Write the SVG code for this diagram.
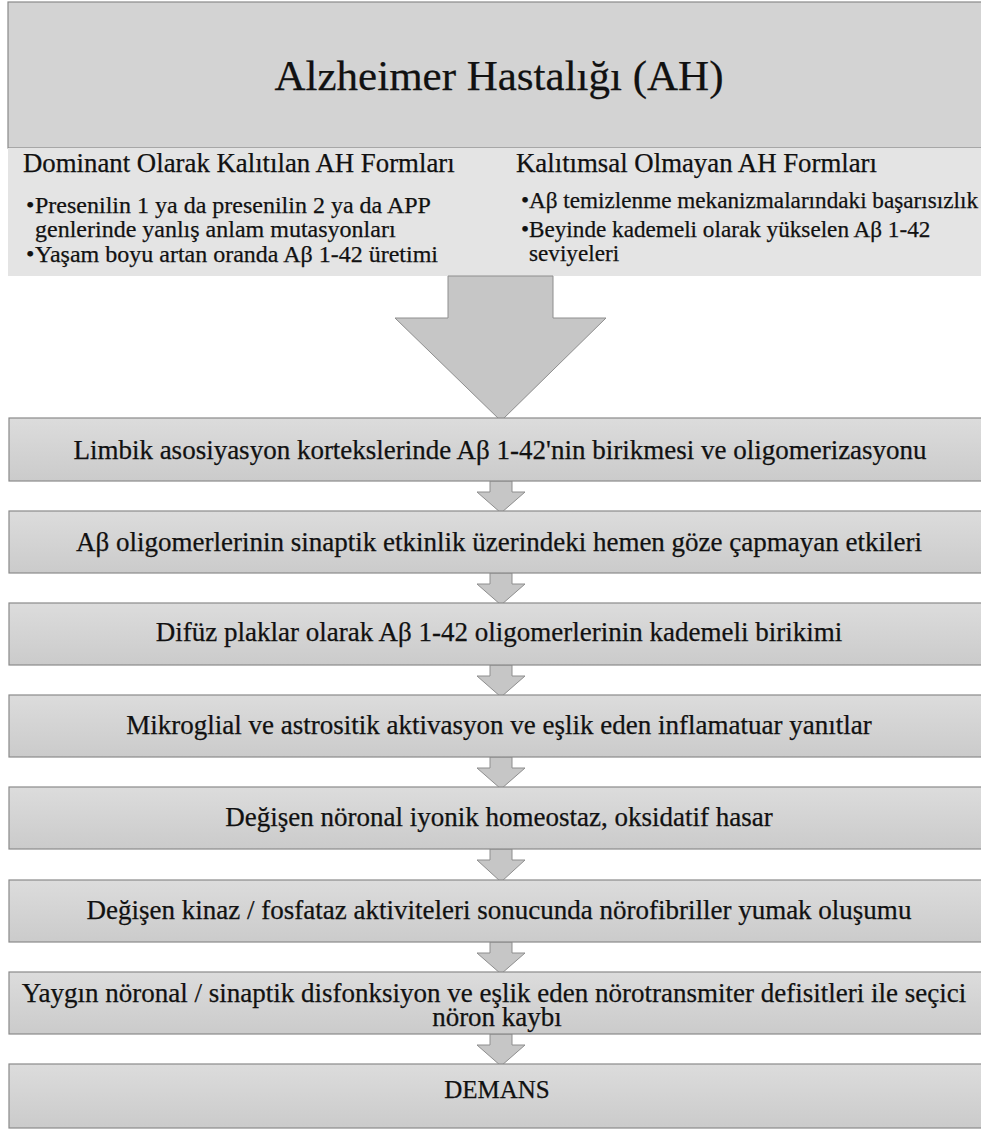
<svg xmlns="http://www.w3.org/2000/svg" width="981" height="1137" viewBox="0 0 981 1137">
<style>
text{font-family:"Liberation Serif","Times New Roman",serif;fill:#111;stroke:#111;stroke-width:0.25}
.box{fill:url(#g);stroke:#8a8a8a;stroke-width:1.2}
.t{font-size:27px;text-anchor:middle}
.h{font-size:26.8px}
.b{font-size:24px}
.r{font-size:23.2px}
.arr{fill:#c6c6c6;stroke:#8e8e8e;stroke-width:1}
</style>
<defs>
<linearGradient id="g" x1="0" y1="0" x2="0" y2="1">
<stop offset="0" stop-color="#dcdcdc"/>
<stop offset="1" stop-color="#cbcbcb"/>
</linearGradient>
</defs>
<rect width="981" height="1137" fill="#ffffff"/>
<g id="header">
<rect x="8" y="2" width="990" height="146" fill="#d3d3d3" stroke="#8a8a8a" stroke-width="1.2"/>
<rect x="8" y="148" width="990" height="128" fill="#e4e4e4"/>
<text x="499" y="90" style="font-size:43px;text-anchor:middle">Alzheimer Hastalığı (AH)</text>
<text class="h" x="23" y="172">Dominant Olarak Kalıtılan AH Formları</text>
<text class="b" x="26" y="213">•</text>
<text class="b" x="35" y="213">Presenilin 1 ya da presenilin 2 ya da APP</text>
<text class="b" x="35" y="237">genlerinde yanlış anlam mutasyonları</text>
<text class="b" x="26" y="262">•</text>
<text class="b" x="35" y="262">Yaşam boyu artan oranda Aβ 1-42 üretimi</text>
<text class="h" x="516" y="172">Kalıtımsal Olmayan AH Formları</text>
<text class="r" x="521" y="208">•</text>
<text class="r" x="529" y="208">Aβ temizlenme mekanizmalarındaki başarısızlık</text>
<text class="r" x="521" y="237">•</text>
<text class="r" x="529" y="237">Beyinde kademeli olarak yükselen Aβ 1-42</text>
<text class="r" x="529" y="261">seviyeleri</text>
</g>
<g id="connectors">
<polygon class="arr" points="448,276 553,276 553,318 606,318 501,421 395,318 448,318"/>
<polygon class="arr" points="490,481 512,481 512,492 525,492 501,513 477,492 490,492"/>
<polygon class="arr" points="490,573 512,573 512,584 525,584 501,605 477,584 490,584"/>
<polygon class="arr" points="490,665 512,665 512,676 525,676 501,697 477,676 490,676"/>
<polygon class="arr" points="490,757 512,757 512,768 525,768 501,789 477,768 490,768"/>
<polygon class="arr" points="490,849 512,849 512,860 525,860 501,882 477,860 490,860"/>
<polygon class="arr" points="490,942 512,942 512,953 525,953 501,974 477,953 490,953"/>
<polygon class="arr" points="490,1034 512,1034 512,1045 525,1045 501,1066 477,1045 490,1045"/>
</g>
<g id="n1"><rect class="box" x="9" y="418" width="990" height="63"/><text class="t" x="500" y="459">Limbik asosiyasyon kortekslerinde Aβ 1-42'nin birikmesi ve oligomerizasyonu</text></g>
<g id="n2"><rect class="box" x="9" y="511" width="990" height="62"/><text class="t" x="499" y="551">Aβ oligomerlerinin sinaptik etkinlik üzerindeki hemen göze çapmayan etkileri</text></g>
<g id="n3"><rect class="box" x="9" y="603" width="990" height="62"/><text class="t" x="499" y="641">Difüz plaklar olarak Aβ 1-42 oligomerlerinin kademeli birikimi</text></g>
<g id="n4"><rect class="box" x="9" y="695" width="990" height="62"/><text class="t" x="499" y="734">Mikroglial ve astrositik aktivasyon ve eşlik eden inflamatuar yanıtlar</text></g>
<g id="n5"><rect class="box" x="9" y="787" width="990" height="62"/><text class="t" x="499" y="826">Değişen nöronal iyonik homeostaz, oksidatif hasar</text></g>
<g id="n6"><rect class="box" x="9" y="880" width="990" height="62"/><text class="t" x="499" y="919">Değişen kinaz / fosfataz aktiviteleri sonucunda nörofibriller yumak oluşumu</text></g>
<g id="n7"><rect class="box" x="9" y="972" width="990" height="62"/><text class="t" x="494" y="1002">Yaygın nöronal / sinaptik disfonksiyon ve eşlik eden nörotransmiter defisitleri ile seçici</text><text class="t" x="497" y="1026">nöron kaybı</text></g>
<g id="n8"><rect class="box" x="9" y="1064" width="990" height="64"/><text class="t" x="497" y="1098" style="font-size:25px">DEMANS</text></g>
</svg>
